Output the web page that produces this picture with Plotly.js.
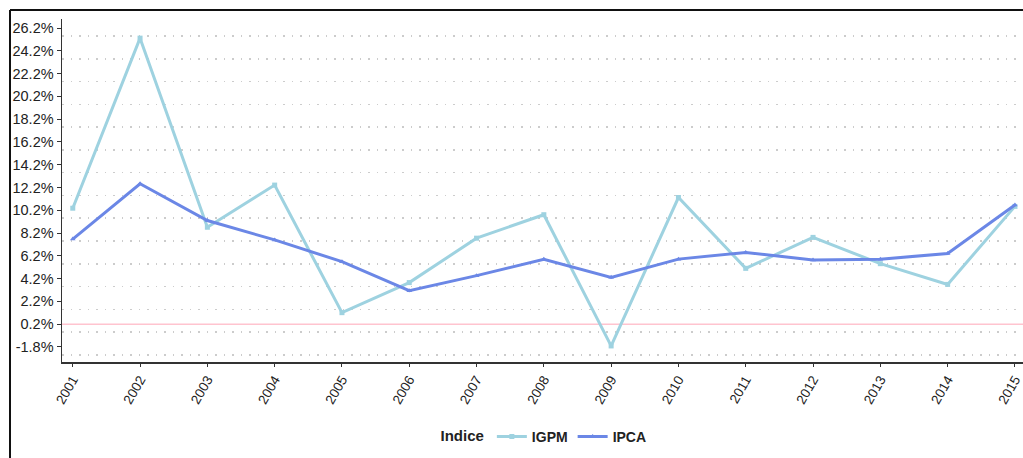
<!DOCTYPE html>
<html>
<head>
<meta charset="utf-8">
<script src="https://cdn.plot.ly/plotly-3.0.1.min.js"></script>
<style>html,body{margin:0;padding:0;background:#fff;overflow:hidden;}#chart{width:1050px;height:458px;}</style>
</head>
<body>
<div id="chart"></div>
<script>
const years = [2001,2002,2003,2004,2005,2006,2007,2008,2009,2010,2011,2012,2013,2014,2015];
const igpm = [10.38,25.31,8.71,12.41,1.21,3.85,7.75,9.81,-1.71,11.32,5.10,7.82,5.51,3.69,10.54];
const ipca = [7.67,12.53,9.30,7.60,5.69,3.14,4.46,5.90,4.31,5.91,6.50,5.84,5.91,6.41,10.67];
const yTicks = [-1.8,0.2,2.2,4.2,6.2,8.2,10.2,12.2,14.2,16.2,18.2,20.2,22.2,24.2,26.2];
const yTickText = yTicks.map(v => v.toFixed(1) + '%');
const gridVals = [-2.5,-0.5,1.5,3.5,5.5,7.5,9.5,11.5,13.5,15.5,17.5,19.5,21.5,23.5,25.5];
const refLine = 0.2;

const ml = 62, mt = 19, W = 1050, H = 458, mb = 96, mr = 27;
const pw = W - ml - mr, ph = H - mt - mb;
const px = p => (p - ml) / pw;
const py = p => (H - mb - p) / ph;

const traces = [
  {x: years, y: igpm, name: 'IGPM', type: 'scatter', mode: 'lines+markers',
   line: {color: '#9ed2e0', width: 3}, marker: {color: '#9ed2e0', size: 5, symbol: 'square'}},
  {x: years, y: ipca, name: 'IPCA', type: 'scatter', mode: 'lines+markers',
   line: {color: '#6b87e6', width: 3}, marker: {color: '#6b87e6', size: 5, symbol: 'triangle-up'}},
  {x: [years[0]], y: [gridVals[0]], yaxis: 'y2', showlegend: false, hoverinfo: 'skip',
   mode: 'markers', marker: {opacity: 0}}
];

const shapes = [
  {type: 'line', xref: 'paper', yref: 'y', x0: 0, x1: 1, y0: refLine, y1: refLine,
   line: {color: '#ffc4cf', width: 1.5}, layer: 'below'},
  {type: 'line', xref: 'paper', yref: 'paper', x0: px(10), x1: px(1050), y0: py(10), y1: py(10),
   line: {color: '#111', width: 2}},
  {type: 'line', xref: 'paper', yref: 'paper', x0: px(10), x1: px(10), y0: py(10), y1: py(470),
   line: {color: '#111', width: 2}}
];

const layout = {
  width: W, height: H,
  margin: {l: ml, r: mr, t: mt, b: mb, pad: 0, autoexpand: false},
  paper_bgcolor: '#ffffff',
  plot_bgcolor: '#ffffff',
  font: {family: 'Liberation Sans, Arial, sans-serif', color: '#222'},
  showlegend: true,
  xaxis: {
    range: [2000.84, 2015.12], automargin: false,
    tickvals: years, ticktext: years.map(String),
    tickangle: -60, tickfont: {size: 13.5, color: '#222'},
    showgrid: false, zeroline: false,
    showline: true, linecolor: '#333', linewidth: 1.5,
    ticks: 'outside', ticklen: 3, tickcolor: '#333'
  },
  yaxis: {
    range: [-3.12, 26.99], automargin: false,
    tickvals: yTicks, ticktext: yTickText,
    tickfont: {size: 14.5, color: '#222'},
    showgrid: false, zeroline: false,
    showline: true, linecolor: '#333', linewidth: 1.5,
    ticks: 'outside', ticklen: 4, tickcolor: '#333'
  },
  yaxis2: {
    overlaying: 'y', range: [-3.12, 26.99], automargin: false,
    tickvals: gridVals, showticklabels: false,
    showgrid: true, gridcolor: '#cccccc', gridwidth: 1.5, griddash: '1.5px,7px',
    zeroline: false, showline: false, ticks: ''
  },
  legend: {
    orientation: 'h', x: px(545), xanchor: 'center', y: py(437), yanchor: 'middle',
    font: {size: 14, color: '#222', weight: 'bold'},
    title: {text: '<b>Indice</b>', side: 'left', font: {size: 15, color: '#222'}},
    itemwidth: 30, bgcolor: 'rgba(0,0,0,0)'
  },
  shapes: shapes
};

Plotly.newPlot('chart', traces, layout, {displayModeBar: false, staticPlot: true});
</script>
</body>
</html>
